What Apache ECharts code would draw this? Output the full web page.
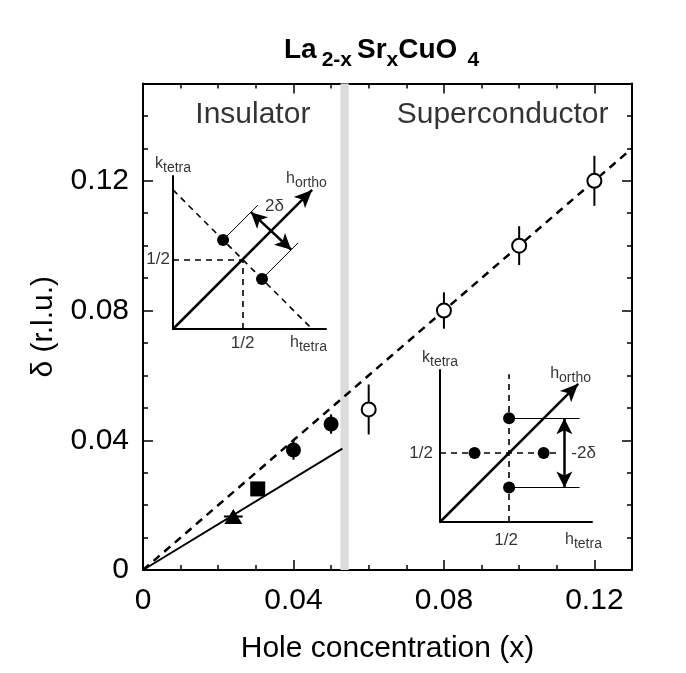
<!DOCTYPE html>
<html>
<head>
<meta charset="utf-8">
<script src="https://cdn.jsdelivr.net/npm/echarts@6/dist/echarts.min.js"></script>
<style>
  html, body { margin: 0; padding: 0; background: #fff; }
  #chart { width: 686px; height: 673px; }
</style>
</head>
<body>
<div id="chart"></div>
<script>
// incommensurability delta vs hole concentration x
const triX = [0.024], triY = [0.0165], triXErr = [0.0025]
const sqX = [0.0305], sqY = [0.025]
const insX = [0.04, 0.05], insY = [0.037, 0.045], insErr = [0.003, 0.003]
const scX = [0.06, 0.08, 0.10, 0.12], scY = [0.0495, 0.080, 0.100, 0.120], scErr = [0.0077, 0.0056, 0.006, 0.0077]
// guide lines and insulator / superconductor boundary
const dashedLine = [[0, 0], [0.13, 0.13]]
const solidLine = [[0, 0], [0.053, 0.0374]]
const boundary = [0.0525, 0.0547]
const xTickLabels = [0, 0.04, 0.08, 0.12]
const yTickLabels = [0, 0.04, 0.08, 0.12]

// inset sketches, in units of the tetragonal reciprocal lattice
const ins1Dots = [[0.36, 0.64], [0.64, 0.36]]
const ins1Dashed = [[[0, 1], [1, 0]], [[0, 0.5], [0.5, 0.5]], [[0.5, 0], [0.5, 0.5]]]
const ins1Thin = [[[0.36, 0.64], [0.61, 0.89]], [[0.64, 0.36], [0.9, 0.62]]]
const ins1Arrow = [[0, 0], [1, 1]]
const ins1Double = [[0.56, 0.84], [0.85, 0.57]]

const ins2Dots = [[0.5, 0.75], [0.5, 0.25], [0.25, 0.5], [0.75, 0.5]]
const ins2Dashed = [[[0, 0.5], [0.87, 0.5]], [[0.5, 0], [0.5, 1.07]]]
const ins2Thin = [[[0.5, 0.75], [1.01, 0.75]], [[0.5, 0.25], [1.01, 0.25]]]
const ins2Arrow = [[0, 0], [1, 1]]
const ins2Double = [[0.9, 0.25], [0.9, 0.75]]

const FONT = "'Liberation Sans', Arial, Helvetica, sans-serif"
const near = (v, list) => list.some(t => Math.abs(v - t) < 1e-6)
const fmt = v => (Math.abs(v) < 1e-9 ? '0' : v.toFixed(2))

const chart = echarts.init(document.getElementById('chart'))

function frameAxis(pos, interval, len, max, extra) {
  return Object.assign({
    type: 'value',
    gridIndex: 0,
    position: pos,
    min: 0,
    max: max,
    interval: interval,
    axisLine: { show: false, onZero: false },
    axisTick: { show: true, inside: true, length: len, lineStyle: { color: '#000', width: 1.5 } },
    axisLabel: { show: false },
    splitLine: { show: false }
  }, extra || {})
}

const borderLine = { show: true, onZero: false, lineStyle: { color: '#000', width: 2 } }
const tickFont = { fontFamily: FONT, fontSize: 30, color: '#000' }

function insetAxis(idx) {
  return {
    type: 'value', gridIndex: idx, min: 0, max: 1.1,
    axisLine: { show: true, onZero: false, lineStyle: { color: '#000', width: 2 } },
    axisTick: { show: false }, axisLabel: { show: false }, splitLine: { show: false }
  }
}

const insetRich = {
  m: { fontFamily: FONT, fontSize: 16, color: '#000' },
  s: { fontFamily: FONT, fontSize: 14, color: '#000', padding: [9, 0, 0, 0] },
  n: { fontFamily: FONT, fontSize: 17, color: '#000' }
}

function insetSeries(ax, dots, dashed, thin, arrow, dbl, labels) {
  const lines = []
  dashed.forEach(s => lines.push([
    { coord: s[0], symbol: 'none', lineStyle: { color: '#000', width: 1.6, type: [6, 5] } },
    { coord: s[1], symbol: 'none' }
  ]))
  thin.forEach(s => lines.push([
    { coord: s[0], symbol: 'none', lineStyle: { color: '#000', width: 1, type: 'solid' } },
    { coord: s[1], symbol: 'none' }
  ]))
  lines.push([
    { coord: arrow[0], symbol: 'none', lineStyle: { color: '#000', width: 2.5, type: 'solid' } },
    { coord: arrow[1], symbol: 'arrow', symbolSize: [12, 18] }
  ])
  lines.push([
    { coord: dbl[0], symbol: 'arrow', symbolSize: [12, 16], lineStyle: { color: '#000', width: 2.5, type: 'solid' } },
    { coord: dbl[1], symbol: 'arrow', symbolSize: [12, 16] }
  ])
  return [
    {
      type: 'scatter', xAxisIndex: ax, yAxisIndex: ax, z: 5,
      data: dots, symbolSize: 12, itemStyle: { color: '#000', opacity: 1 }, silent: true,
      markLine: { silent: true, animation: false, label: { show: false }, emphasis: { disabled: true }, data: lines }
    },
    {
      type: 'scatter', xAxisIndex: ax, yAxisIndex: ax, z: 6, symbolSize: 0, silent: true,
      data: labels.map(l => ({
        value: l.at,
        label: { show: true, position: 'inside', formatter: l.text, align: l.align, offset: l.offset, rich: insetRich }
      }))
    }
  ]
}

const ins1Labels = [
  { at: [0, 1.1], text: '{m|k}{s|tetra}', align: 'left', offset: [-18, -12] },
  { at: [1, 1], text: '{m|h}{s|ortho}', align: 'left', offset: [-26, -11] },
  { at: [0, 0.5], text: '{n|1/2}', align: 'right', offset: [-3, 0] },
  { at: [0.5, 0], text: '{n|1/2}', align: 'center', offset: [0, 14] },
  { at: [1.1, 0], text: '{m|h}{s|tetra}', align: 'left', offset: [-36, 14] },
  { at: [0.73, 0.88], text: '{n|2δ}', align: 'center', offset: [0, 0] }
]
const ins2Labels = [
  { at: [0, 1.1], text: '{m|k}{s|tetra}', align: 'left', offset: [-18, -12] },
  { at: [1, 1], text: '{m|h}{s|ortho}', align: 'left', offset: [-28, -10] },
  { at: [0, 0.5], text: '{n|1/2}', align: 'right', offset: [-7, 0] },
  { at: [0.5, 0], text: '{n|1/2}', align: 'center', offset: [-3, 18] },
  { at: [1.1, 0], text: '{m|h}{s|tetra}', align: 'left', offset: [-27, 18] },
  { at: [0.9, 0.5], text: '{n|-2δ}', align: 'left', offset: [7, 0] }
]

const errData = []
triX.forEach((x, i) => errData.push([x, triY[i], triXErr[i], 0]))
insX.forEach((x, i) => errData.push([x, insY[i], 0, insErr[i]]))
scX.forEach((x, i) => errData.push([x, scY[i], 0, scErr[i]]))

const option = {
  backgroundColor: '#fff',
  animation: false,
  title: {
    text: '{m|La} {s|2-x} {m|Sr}{s|x}{m|CuO}  {s|4}',
    left: 284,
    top: 29,
    padding: 0,
    textStyle: {
      rich: {
        m: { fontFamily: FONT, fontSize: 28, fontWeight: 'bold', color: '#000' },
        s: { fontFamily: FONT, fontSize: 21, fontWeight: 'bold', color: '#000', padding: [21, 0, 0, 0] }
      }
    }
  },
  grid: [
    { left: 143, top: 83.5, width: 489, height: 486.5 },
    { left: 173, top: 176, width: 153, height: 153 },
    { left: 440, top: 370, width: 152, height: 152 }
  ],
  xAxis: [
    frameAxis('bottom', 0.01, 5, 0.13, {
      axisLine: borderLine,
      axisLabel: Object.assign({ show: true, margin: 16, formatter: v => (near(v, xTickLabels) ? fmt(v) : '') }, tickFont),
      name: 'Hole concentration (x)',
      nameLocation: 'middle',
      nameGap: 64,
      nameTextStyle: tickFont
    }),
    frameAxis('bottom', 0.04, 10, 0.13),
    frameAxis('top', 0.01, 5, 0.13, { axisLine: borderLine }),
    frameAxis('top', 0.04, 10, 0.13),
    insetAxis(1),
    insetAxis(2)
  ],
  yAxis: [
    frameAxis('left', 0.01, 5, 0.15, {
      axisLine: borderLine,
      axisLabel: Object.assign({ show: true, margin: 14, formatter: v => (near(v, yTickLabels) ? fmt(v) : '') }, tickFont),
      name: 'δ (r.l.u.)',
      nameLocation: 'middle',
      nameRotate: 90,
      nameGap: 84,
      nameTextStyle: tickFont
    }),
    frameAxis('left', 0.04, 10, 0.15),
    frameAxis('right', 0.01, 5, 0.15, { axisLine: borderLine }),
    frameAxis('right', 0.04, 10, 0.15),
    insetAxis(1),
    insetAxis(2)
  ],
  series: [
    {
      type: 'line', xAxisIndex: 0, yAxisIndex: 0, data: [], z: 1, silent: true,
      markArea: {
        silent: true,
        itemStyle: { color: '#dcdcdc' },
        data: [[{ xAxis: boundary[0] }, { xAxis: boundary[1] }]]
      }
    },
    {
      type: 'line', xAxisIndex: 0, yAxisIndex: 0, data: dashedLine, z: 2,
      showSymbol: false, silent: true,
      lineStyle: { color: '#000', width: 2.5, type: [8, 6] }
    },
    {
      type: 'line', xAxisIndex: 0, yAxisIndex: 0, data: solidLine, z: 2,
      showSymbol: false, silent: true,
      lineStyle: { color: '#000', width: 2 }
    },
    {
      type: 'custom', xAxisIndex: 0, yAxisIndex: 0, data: errData, z: 3, silent: true,
      renderItem: function (params, api) {
        const x = api.value(0), y = api.value(1), ex = api.value(2), ey = api.value(3)
        const children = []
        if (ey > 0) {
          const a = api.coord([x, y - ey]), b = api.coord([x, y + ey])
          children.push({ type: 'line', shape: { x1: a[0], y1: a[1], x2: b[0], y2: b[1] }, style: { stroke: '#000', lineWidth: 2 } })
        }
        if (ex > 0) {
          const a = api.coord([x - ex, y]), b = api.coord([x + ex, y])
          children.push({ type: 'line', shape: { x1: a[0], y1: a[1], x2: b[0], y2: b[1] }, style: { stroke: '#000', lineWidth: 2 } })
        }
        return { type: 'group', children: children }
      }
    },
    {
      type: 'scatter', xAxisIndex: 0, yAxisIndex: 0, z: 4, silent: true,
      data: triX.map((x, i) => [x, triY[i]]),
      symbol: 'triangle', symbolSize: [18, 15], itemStyle: { color: '#000', opacity: 1 }
    },
    {
      type: 'scatter', xAxisIndex: 0, yAxisIndex: 0, z: 4, silent: true,
      data: sqX.map((x, i) => [x, sqY[i]]),
      symbol: 'rect', symbolSize: 15, itemStyle: { color: '#000', opacity: 1 }
    },
    {
      type: 'scatter', xAxisIndex: 0, yAxisIndex: 0, z: 4, silent: true,
      data: insX.map((x, i) => [x, insY[i]]),
      symbol: 'circle', symbolSize: 15, itemStyle: { color: '#000', opacity: 1 }
    },
    {
      type: 'scatter', xAxisIndex: 0, yAxisIndex: 0, z: 4, silent: true,
      data: scX.map((x, i) => [x, scY[i]]),
      symbol: 'circle', symbolSize: 14, itemStyle: { color: '#fff', borderColor: '#000', borderWidth: 2, opacity: 1 }
    },
    {
      type: 'scatter', xAxisIndex: 0, yAxisIndex: 0, z: 6, symbolSize: 0, silent: true,
      data: [
        { value: [0.0292, 0.1405], label: { show: true, position: 'inside', formatter: 'Insulator', ...tickFont } },
        { value: [0.0956, 0.1405], label: { show: true, position: 'inside', formatter: 'Superconductor', ...tickFont } }
      ]
    },
    ...insetSeries(4, ins1Dots, ins1Dashed, ins1Thin, ins1Arrow, ins1Double, ins1Labels),
    ...insetSeries(5, ins2Dots, ins2Dashed, ins2Thin, ins2Arrow, ins2Double, ins2Labels)
  ]
}

chart.setOption(option)
</script>
</body>
</html>
